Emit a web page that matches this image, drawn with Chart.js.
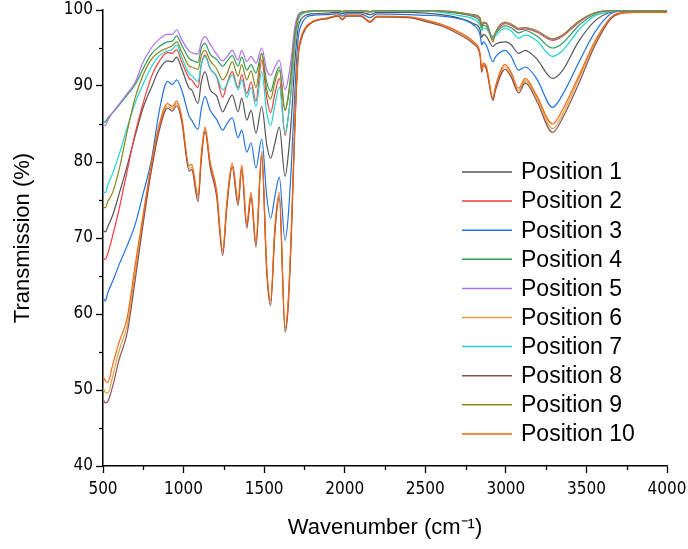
<!DOCTYPE html>
<html>
<head>
<meta charset="utf-8">
<script src="https://cdn.jsdelivr.net/npm/chart.js@4/dist/chart.umd.min.js"></script>
<style>
  html, body { margin: 0; padding: 0; background: #fff; }
  #wrap { width: 688px; height: 549px; }
</style>
</head>
<body>
<div id="wrap"><canvas id="c" width="688" height="549"></canvas></div>
<script>
const wavenumbers = [500,515,530,560,600,650,700,750,800,850,900,930,957,988,1035,1050,1090,1110,1133,1165,1205,1243,1268,1302,1338,1361,1392,1419,1449,1485,1516,1540,1567,1594,1630,1650,1670,1690,1710,1730,1760,1800,1900,1960,1985,2010,2100,2157,2200,2400,2500,2600,2700,2800,2840,2850,2860,2880,2920,2935,2995,3030,3080,3120,3190,3290,3350,3450,3550,3650,3700,3800,4000];

const seriesLabels = ["Position 1","Position 2","Position 3","Position 4","Position 5","Position 6","Position 7","Position 8","Position 9","Position 10"];

const position1 = [71.0,70.8,71.5,73.0,75.8,79.5,83.5,87.2,89.8,92.2,93.3,93.2,93.8,92.3,89.7,89.5,87.7,90.5,91.9,89.5,88.7,86.6,87.6,88.8,86.6,88.4,85.5,86.8,83.8,87.3,82.3,80.5,82.5,84.6,78.1,81.0,86.0,93.0,97.5,98.8,99.3,99.5,99.6,99.7,99.5,99.7,99.7,99.4,99.7,99.7,99.6,99.4,99.0,98.2,97.4,96.4,96.8,96.5,95.2,95.5,95.8,95.5,94.3,94.7,93.6,91.0,92.0,95.8,98.5,99.7,99.8,99.8,99.8];
const position2 = [67.3,67.2,68.0,70.3,73.8,78.8,83.8,87.8,91.2,93.3,94.4,94.3,94.8,93.2,91.0,90.8,89.8,92.8,94.1,92.3,91.2,88.5,90.2,91.9,89.8,91.5,89.0,90.5,88.0,93.4,88.5,86.5,89.0,91.0,83.5,86.0,90.0,95.5,98.5,99.4,99.7,99.8,99.9,99.9,99.7,99.9,99.9,99.7,99.9,99.9,99.9,99.8,99.6,99.2,98.8,97.9,98.3,98.2,96.1,96.9,98.2,98.0,97.4,97.5,97.1,96.0,96.5,98.3,99.6,99.9,99.9,99.9,99.9];
const position3 = [62.2,61.7,62.8,64.3,66.5,69.0,71.8,75.9,80.2,86.8,90.6,90.2,90.8,89.5,86.0,85.5,84.3,87.0,88.6,86.8,85.6,84.2,85.0,85.8,83.2,84.2,81.3,82.5,79.2,83.0,75.5,72.6,75.5,78.0,69.7,73.0,80.0,89.0,96.0,98.0,99.0,99.3,99.4,99.5,99.2,99.5,99.5,99.0,99.5,99.4,99.3,99.2,98.9,98.0,96.7,95.4,95.8,95.3,93.2,93.8,94.7,94.0,92.1,92.5,91.0,87.2,88.8,93.0,97.0,99.5,99.8,99.8,99.8];
const position4 = [85.2,85.3,85.8,86.5,87.5,88.8,90.2,92.3,94.2,95.2,95.8,95.9,96.6,95.4,93.6,93.4,93.1,95.0,95.6,94.2,93.5,92.6,93.2,94.0,92.6,93.8,92.1,92.8,91.7,94.3,90.5,89.3,91.2,92.5,86.8,88.8,92.5,96.8,99.2,99.7,99.8,99.9,99.9,99.9,99.8,99.9,99.9,99.8,99.9,99.9,99.9,99.8,99.6,99.1,98.4,97.6,98.0,97.8,96.5,96.9,97.9,97.7,97.0,97.3,96.6,95.0,95.6,97.9,99.4,99.9,99.9,99.9,99.9];
const position5 = [85.0,84.8,85.5,86.5,87.6,89.0,90.5,93.2,95.0,96.2,96.8,96.8,97.4,96.1,94.6,94.4,94.2,95.8,96.5,95.5,94.2,93.3,93.8,94.7,93.4,94.7,93.2,93.9,93.0,95.0,92.1,91.4,92.5,93.4,89.5,91.0,94.0,97.8,99.3,99.7,99.8,99.9,99.9,99.9,99.8,99.9,99.9,99.8,99.9,99.9,99.9,99.9,99.7,99.3,98.9,98.0,98.4,98.3,96.2,97.0,98.3,98.1,97.5,97.6,97.2,96.1,96.6,98.4,99.6,99.9,99.9,99.9,99.9];
const position6 = [50.3,49.7,49.6,51.8,55.2,58.5,65.5,72.6,79.3,84.6,87.4,87.0,87.7,85.7,79.1,79.3,75.2,80.6,84.3,79.6,75.9,68.0,74.2,79.6,74.6,79.3,71.6,75.6,69.1,81.0,65.8,61.4,71.1,75.6,57.9,61.6,71.5,84.5,93.7,96.3,97.7,98.4,98.9,99.2,98.7,99.2,99.2,98.4,99.1,99.0,98.6,98.0,97.1,95.7,94.2,92.0,92.9,92.3,88.3,89.7,92.5,91.6,89.4,90.7,88.5,84.4,86.2,90.8,95.5,98.9,99.5,99.7,99.7];
const position7 = [76.0,76.0,77.0,78.5,81.0,84.5,87.8,90.3,92.5,94.0,94.6,94.8,95.4,93.8,91.6,91.4,90.6,92.8,93.9,92.3,91.3,89.5,90.2,91.5,89.5,90.8,88.5,89.8,87.3,91.9,86.5,84.8,87.5,89.9,83.8,86.0,90.0,95.5,98.5,99.4,99.7,99.8,99.9,99.9,99.7,99.9,99.9,99.7,99.9,99.8,99.8,99.7,99.3,98.8,98.0,97.3,97.6,97.5,96.3,96.6,97.6,97.3,96.3,96.7,96.0,93.9,94.6,97.3,99.2,99.8,99.9,99.9,99.9];
const position8 = [48.8,48.3,48.5,50.5,54.0,57.5,64.5,72.0,78.8,84.2,87.1,86.7,87.4,85.4,78.8,79.0,74.8,80.2,84.0,79.3,75.5,67.7,73.9,79.3,74.3,79.0,71.3,75.3,68.8,80.7,65.5,61.1,70.8,75.3,57.6,61.2,71.0,84.0,93.4,96.1,97.6,98.4,98.9,99.2,98.7,99.2,99.2,98.4,99.1,99.0,98.5,97.9,96.9,95.5,94.0,91.8,92.7,92.1,88.1,89.4,92.2,91.3,89.1,90.4,88.1,83.9,85.7,90.2,95.2,98.8,99.5,99.7,99.7];
const position9 = [74.0,74.0,74.8,76.0,79.0,84.0,88.5,91.5,93.5,94.5,95.0,95.3,95.8,94.5,92.6,92.5,92.2,94.0,94.7,93.3,92.3,90.8,91.5,93.2,91.3,92.8,90.8,92.0,89.8,94.3,89.5,88.3,90.5,92.1,86.8,88.5,92.0,96.5,99.0,99.6,99.8,99.9,99.9,99.9,99.8,99.9,99.9,99.8,99.9,99.9,99.9,99.9,99.7,99.4,99.0,97.8,98.3,98.2,95.8,97.0,98.4,98.2,97.6,97.7,97.3,96.2,96.7,98.5,99.6,99.9,99.9,99.9,99.9];
const position10 = [51.8,51.2,51.0,53.3,56.3,59.5,66.5,73.2,79.8,85.0,87.7,87.3,88.0,86.0,79.5,79.7,75.6,81.0,84.6,80.0,76.3,68.4,74.6,79.9,75.0,79.6,72.0,76.0,69.5,81.4,66.2,61.8,71.5,76.0,58.2,62.0,72.0,85.0,94.0,96.5,97.8,98.5,99.0,99.3,98.8,99.3,99.3,98.5,99.2,99.1,98.7,98.1,97.2,95.8,94.3,92.1,93.0,92.5,88.4,89.9,92.8,91.9,89.7,91.0,88.8,85.0,86.8,91.2,95.8,99.0,99.6,99.7,99.7];

const xTicks = [500,1000,1500,2000,2500,3000,3500,4000];
const yTicks = [40,50,60,70,80,90,100];

const seriesValues = [position1,position2,position3,position4,position5,position6,position7,position8,position9,position10];
const seriesColors = ["#555555","#f03c3c","#2272e2","#2b9a5b","#b070ee","#d6a445","#22d2d2","#8c5050","#878718","#f5650f"];

const FONT = "'Liberation Sans', Arial, sans-serif";
const TICKFONT = "'Liberation Sans Narrow', 'Arial Narrow', 'DejaVu Sans Condensed', 'Liberation Sans', sans-serif";

const datasets = seriesValues.map((vals, i) => ({
  label: seriesLabels[i],
  data: wavenumbers.map((w, j) => ({ x: w, y: vals[j] })),
  borderColor: seriesColors[i],
  backgroundColor: seriesColors[i],
  borderWidth: 1.2,
  pointRadius: 0,
  cubicInterpolationMode: 'monotone',
  fill: false,
  order: 9 - i
}));

const minorTicks = {
  id: 'minorTicks',
  afterDraw(chart) {
    const ctx = chart.ctx;
    const xs = chart.scales.x, ys = chart.scales.y;
    ctx.save();
    ctx.strokeStyle = '#000';
    ctx.lineWidth = 1.3;
    const b = chart.chartArea.bottom, l = chart.chartArea.left;
    for (let i = 0; i < xTicks.length - 1; i++) {
      const v = (xTicks[i] + xTicks[i + 1]) / 2;
      const px = Math.round(xs.getPixelForValue(v)) + 0.5;
      ctx.beginPath(); ctx.moveTo(px, b); ctx.lineTo(px, b + 4); ctx.stroke();
    }
    for (let i = 0; i < yTicks.length - 1; i++) {
      const v = (yTicks[i] + yTicks[i + 1]) / 2;
      const py = Math.round(ys.getPixelForValue(v)) + 0.5;
      ctx.beginPath(); ctx.moveTo(l, py); ctx.lineTo(l - 4, py); ctx.stroke();
    }
    ctx.restore();
  }
};

const insideLegend = {
  id: 'insideLegend',
  afterDraw(chart) {
    const ctx = chart.ctx;
    ctx.save();
    ctx.font = "23px " + FONT;
    ctx.textBaseline = 'middle';
    ctx.textAlign = 'left';
    chart.data.datasets.forEach((ds, i) => {
      const y = 172 + i * 29.1;
      ctx.strokeStyle = ds.borderColor;
      ctx.lineWidth = 1.5;
      ctx.beginPath(); ctx.moveTo(462, y); ctx.lineTo(512, y); ctx.stroke();
      ctx.fillStyle = '#000';
      ctx.fillText(ds.label, 521, y + 1);
    });
    ctx.restore();
  }
};

new Chart(document.getElementById('c'), {
  type: 'line',
  data: { datasets },
  options: {
    responsive: false,
    animation: false,
    layout: { padding: { left: 0, right: 21, top: 10, bottom: 0 } },
    plugins: { legend: { display: false }, tooltip: { enabled: false } },
    scales: {
      x: {
        type: 'linear', min: 500, max: 4000,
        afterBuildTicks: s => { s.ticks = xTicks.map(v => ({ value: v })); },
        afterFit: s => { s.height = 83; s.paddingLeft = 0; s.paddingRight = 0; },
        ticks: { color: '#000', font: { family: TICKFONT, size: 17 }, padding: 6, maxRotation: 0, callback: v => String(v) },
        grid: { drawOnChartArea: false, drawTicks: true, tickLength: 7, tickColor: '#000', tickWidth: 1.3 },
        border: { display: true, color: '#000', width: 1.5 },
        title: { display: true, text: 'Wavenumber (cm\u207B\u00B9)', color: '#000', font: { family: FONT, size: 22 }, padding: { top: 4, bottom: 8 } }
      },
      y: {
        min: 40, max: 100,
        afterBuildTicks: s => { s.ticks = yTicks.map(v => ({ value: v })); },
        afterFit: s => { s.width = 103; s.paddingTop = 0; s.paddingBottom = 0; },
        ticks: { color: '#000', font: { family: TICKFONT, size: 17 }, padding: 3, callback: v => String(v) },
        grid: { drawOnChartArea: false, drawTicks: true, tickLength: 7, tickColor: '#000', tickWidth: 1.3 },
        border: { display: true, color: '#000', width: 1.5 },
        title: { display: true, text: 'Transmission (%)', color: '#000', font: { family: FONT, size: 22 }, padding: { top: 10, bottom: 10 } }
      }
    }
  },
  plugins: [minorTicks, insideLegend]
});
</script>
</body>
</html>
